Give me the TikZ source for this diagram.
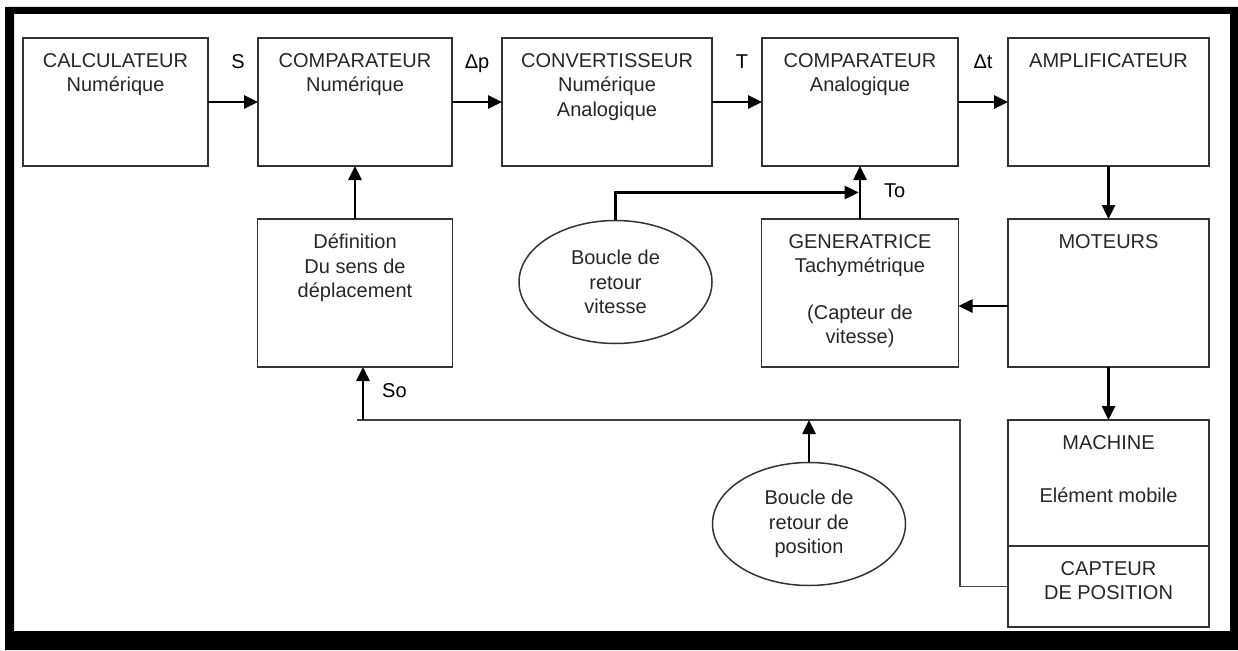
\documentclass[tikz,border=0pt]{standalone}
\usepackage{fontspec}
\setmainfont{Liberation Sans}
\usetikzlibrary{arrows.meta,positioning,calc,shapes.geometric}

\begin{document}
\begin{tikzpicture}[
  x=1pt, y=-1pt,
  font=\fontsize{20}{24.5}\selectfont,
  box/.style={draw=black!80, line width=1.5pt, minimum height=128pt, inner sep=0pt, outer sep=0pt},
  txt/.style={anchor=north, yshift=-15pt, align=center, inner sep=0pt, text=black!85},
  bulle/.style={draw=black!80, line width=1.5pt, ellipse, minimum width=193pt, minimum height=123pt, align=center, inner sep=0pt, text=black!85},
  sig/.style={anchor=base, inner sep=0pt},
  arr/.style={-{Triangle[length=14pt,width=13pt]}, line width=2.6pt},
  fb/.style={line width=1.8pt, draw=black!75}
]
  \useasboundingbox (0,0) rectangle (1238,650);
  % cadre
  \fill[even odd rule] (5,7) rectangle (1238,650) (14,14) rectangle (1230,631);

  % chaine directe
  \node[box, minimum width=185pt, label={[txt]north:{CALCULATEUR\\Numérique}}] (calc) at (115.5,102) {};
  \node[box, minimum width=194pt, right=50pt of calc, label={[txt]north:{COMPARATEUR\\Numérique}}] (compnum) {};
  \node[box, minimum width=210pt, right=50pt of compnum, label={[txt]north:{CONVERTISSEUR\\Numérique\\Analogique}}] (conv) {};
  \node[box, minimum width=196pt, right=50pt of conv, label={[txt]north:{COMPARATEUR\\Analogique}}] (compana) {};
  \node[box, minimum width=201pt, right=50pt of compana, label={[txt]north:{AMPLIFICATEUR}}] (ampli) {};

  % retours
  \node[box, minimum width=195pt, minimum height=148pt, below=53pt of compnum, label={[txt]north:{Définition\\Du sens de\\déplacement}}] (defsens) {};
  \node[box, minimum width=197pt, minimum height=148pt, below=53pt of compana, label={[txt]north:{GENERATRICE\\Tachymétrique\\[22pt](Capteur de\\vitesse)}}] (gener) {};
  \node[box, minimum width=201pt, minimum height=148pt, below=53pt of ampli, label={[txt]north:{MOTEURS}}] (moteurs) {};
  \node[box, minimum width=201pt, minimum height=126pt, below=53pt of moteurs, label={[txt]north:{MACHINE\\[29pt]Elément mobile}}] (machine) {};
  \node[box, minimum width=201pt, minimum height=81pt, below=0pt of machine, label={[txt]north:{CAPTEUR\\DE POSITION}}] (capteur) {};

  \node[bulle] (vitesse) at (615.5,282) {Boucle de\\retour\\vitesse};
  \node[bulle] (position) at (809,524) {Boucle de\\retour de\\position};

  \draw[arr] (calc) -- node[sig, xshift=5pt, yshift=33pt] {S} (compnum);
  \draw[arr] (compnum) -- node[sig, yshift=33pt] {Δp} (conv);
  \draw[arr] (conv) -- node[sig, xshift=5pt, yshift=33pt] {T} (compana);
  \draw[arr] (compana) -- node[sig, yshift=33pt] {Δt} (ampli);
  \draw[arr] (defsens) -- (compnum);
  \draw[arr] (ampli) -- (moteurs);
  \draw[arr] (moteurs) -- (machine);
  \draw[arr] ([yshift=-13pt]moteurs.west) -- ([yshift=-13pt]moteurs.west -| gener.east);

  % boucle vitesse
  \coordinate (jonction) at ($(gener.north)!.5!(compana.south)$);
  \draw[arr] (gener) -- (compana);
  \draw[arr, shorten >=1.3pt] (vitesse.north) |- (jonction);
  \node[sig, anchor=base west] (to) at ([xshift=24pt,yshift=-4.5pt]jonction) {To};

  % boucle position
  \coordinate (coude) at ([xshift=-48pt]machine.north west);
  \coordinate (soin) at ([xshift=8pt]defsens.south);
  \draw[fb] (capteur.west) -| (coude) -- ([xshift=-6pt]soin |- coude);
  \draw[arr] (soin |- coude) -- (soin);
  \draw[arr] (position) -- (position |- coude);
  \node[sig, anchor=base west] (so) at ([xshift=19pt,yshift=-30pt]soin) {So};
\end{tikzpicture}
\end{document}
